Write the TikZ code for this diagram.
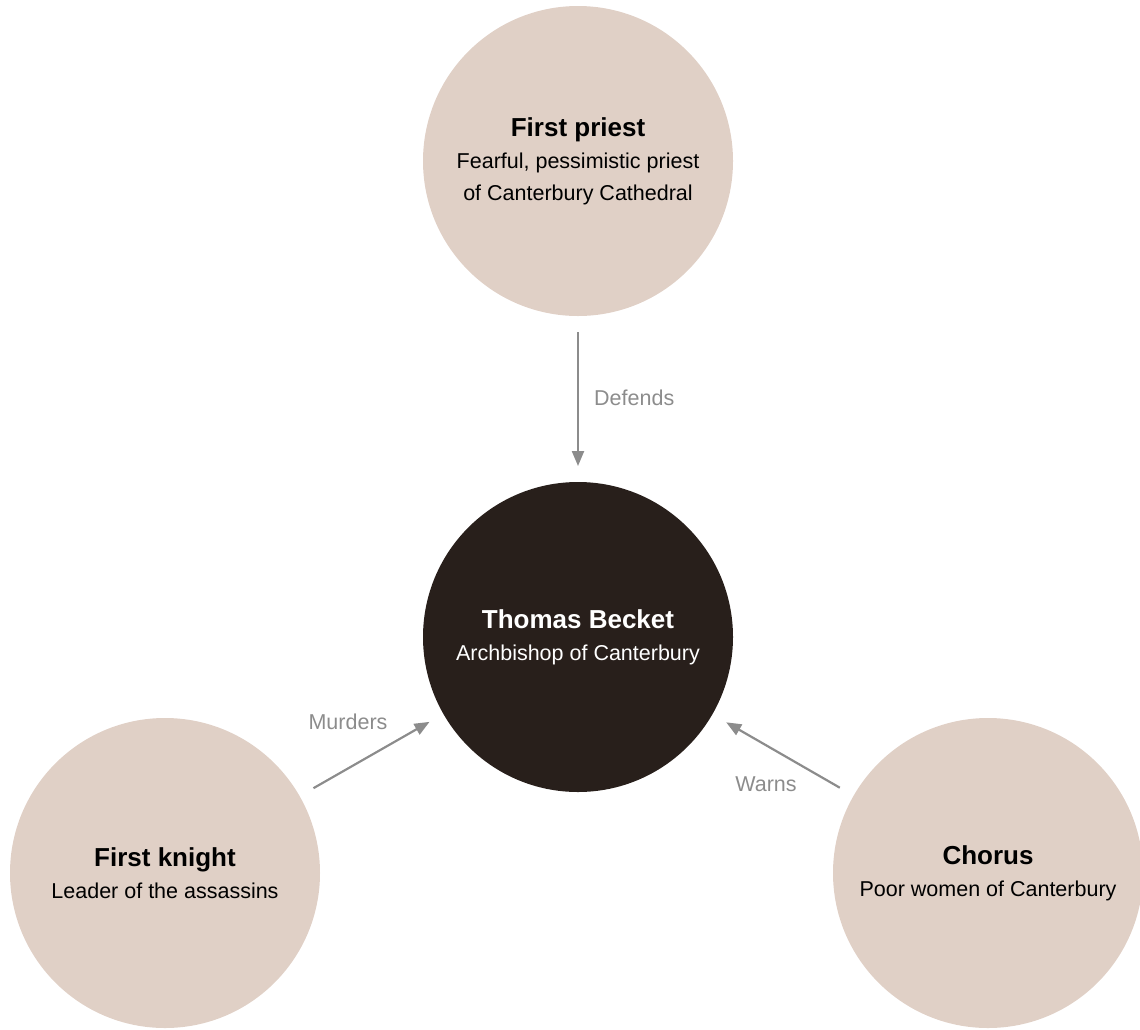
\documentclass[tikz,border=0pt]{standalone}
\usepackage{fontspec}
\setmainfont{Liberation Sans}
\usetikzlibrary{arrows.meta}
\definecolor{beige}{RGB}{224,208,198}
\definecolor{darkbrown}{RGB}{40,31,27}
\definecolor{arrowgray}{RGB}{140,140,140}
\tikzset{
  role/.style={circle, fill=beige, minimum size=310pt, inner sep=0pt, outer sep=0pt, align=center, text=black, font=\fontsize{21.5}{32}\selectfont},
  hero/.style={role, fill=darkbrown, text=white},
  rel/.style={draw=arrowgray, line width=2.2pt, -{Triangle[length=15pt,width=12pt]}, shorten >=16pt, shorten <=16pt},
  rellabel/.style={text=arrowgray, font=\fontsize{21.5}{24}\selectfont, inner sep=0pt}
}
\newcommand{\ttlfont}{\fontsize{26}{32}\selectfont\bfseries}
\begin{document}
\begin{tikzpicture}[x=1pt,y=-1pt]
\useasboundingbox (0,0) rectangle (1140,1029);
\node[role] (priest) at (578,161) {{\ttlfont First priest}\\Fearful, pessimistic priest\\of Canterbury Cathedral};
\node[hero] (becket) at (578,637) {{\ttlfont Thomas Becket}\\Archbishop of Canterbury};
\node[role] (knight) at (165,873) {{\ttlfont First knight}\\Leader of the assassins};
\node[role] (chorus) at (988,873) {{\ttlfont Chorus}\\Poor women of Canterbury};
\draw[rel] (priest) -- (becket);
\draw[rel] (knight) -- (becket);
\draw[rel] (chorus) -- (becket);
\node[rellabel, anchor=west] (ldef) at (594,398) {Defends};
\node[rellabel] (lmur) at (348,722) {Murders};
\node[rellabel] (lwarn) at (766,784) {Warns};
\end{tikzpicture}
\end{document}
